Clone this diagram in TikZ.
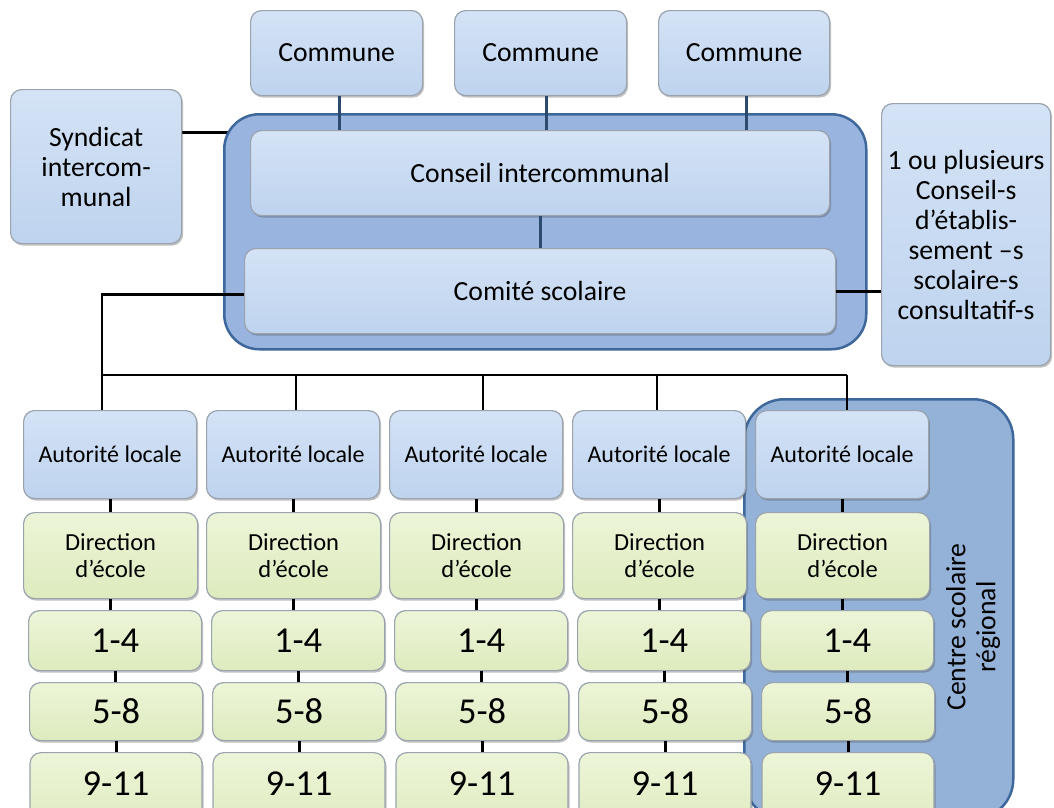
\documentclass[tikz,border=0pt]{standalone}
\usepackage{fontspec}
\setmainfont{Carlito}
\usetikzlibrary{shadows,calc}
\definecolor{blueTop}{HTML}{D4E3F6}
\definecolor{blueBot}{HTML}{BED3EE}
\definecolor{greenTop}{HTML}{EDF5D8}
\definecolor{greenBot}{HTML}{DDEBBE}
\definecolor{grpfill}{HTML}{98B4DF}
\definecolor{crsfill}{HTML}{94B2D7}
\definecolor{grpline}{HTML}{3E679B}
\definecolor{linkblue}{HTML}{2C4A70}
\definecolor{boxedge}{HTML}{9AA3AE}
\pgfdeclarelayer{back}
\pgfdeclarelayer{mid}
\pgfsetlayers{back,mid,main}
\begin{document}
\begin{tikzpicture}[x=1pt,y=-1pt,
  box/.style={rounded corners=11pt, draw=boxedge, line width=1.2pt, inner sep=0pt,
    align=center, anchor=north west,
    drop shadow={shadow xshift=1.5pt, shadow yshift=-2pt, opacity=0.35, fill=black!70}},
  bluebox/.style={box, top color=blueTop, bottom color=blueBot},
  greenbox/.style={box, top color=greenTop, bottom color=greenBot},
  grp/.style={rounded corners=35pt, draw=grpline, line width=2.5pt, anchor=north west, inner sep=0pt},
  link/.style={line width=2.8pt, draw=black},
  blink/.style={line width=2.8pt, draw=linkblue},
  bigtxt/.style={font=\fontsize{27.7}{30}\selectfont},
  midtxt/.style={font=\fontsize{24}{28}\selectfont},
  dirtxt/.style={font=\fontsize{24.5}{27}\selectfont},
  numtxt/.style={font=\fontsize{36.5}{40}\selectfont}
]
\useasboundingbox (0,0) rectangle (1054,807);
\clip (0,0) rectangle (1054,807);

% groups
\begin{pgfonlayer}{mid}
\node[grp, fill=grpfill, minimum width=642pt, minimum height=235pt] (grp) at (223,113) {};
\node[grp, fill=crsfill, rounded corners=40pt, minimum width=269pt, minimum height=420pt] (crs) at (743,398) {};
\node[bigtxt, rotate=90, align=center] (crstxt) at (973,627) {Centre scolaire\\régional};
\end{pgfonlayer}

% top boxes
\node[bluebox, bigtxt, minimum width=172pt, minimum height=85pt] (c1) at (250,10) {Commune};
\node[bluebox, bigtxt, minimum width=172pt, minimum height=85pt] (c2) at (454,10) {Commune};
\node[bluebox, bigtxt, minimum width=171pt, minimum height=85pt] (c3) at (658,10) {Commune};
\node[bluebox, bigtxt, minimum width=171pt, minimum height=154pt] (syn) at (10,89) {Syndicat\\intercom-\\munal};
\node[bluebox, bigtxt, minimum width=579pt, minimum height=85pt] (conseil) at (250,130) {Conseil intercommunal};
\node[bluebox, bigtxt, minimum width=591pt, minimum height=85pt] (comite) at (244,248) {Comité scolaire};
\node[bluebox, bigtxt, minimum width=169pt, minimum height=262pt] (plus) at (881,103)
  {1 ou plusieurs\\Conseil-s\\d’établis-\\sement –s\\scolaire-s\\consultatif-s};

% top connectors
\begin{pgfonlayer}{back}
\draw[link] ([yshift=34pt]syn.east) -- ([yshift=34pt]syn.east -| conseil.west);
\end{pgfonlayer}
\draw[blink] ([xshift=3pt]c1.south) -- ([xshift=3pt]c1.south |- conseil.north);
\draw[blink] ([xshift=6pt]c2.south) -- ([xshift=6pt]c2.south |- conseil.north);
\draw[blink] ([xshift=2.5pt]c3.south) -- ([xshift=2.5pt]c3.south |- conseil.north);
\draw[blink] (conseil.south) -- (comite.north);
\draw[link] (comite.east) -- (comite.east -| plus.west);

% bus
\coordinate (d1) at (102,375);
\coordinate (d2) at (296,375);
\coordinate (d3) at (483,375);
\coordinate (d4) at (657,375);
\coordinate (d5) at (847,375);
\draw[link] ([yshift=-3pt]comite.west) -| (d1) -- (d5);

% columns
\foreach \i/\X in {1/23, 2/206, 3/389, 4/572, 5/755} {
  \node[bluebox, midtxt, minimum width=173pt, minimum height=88pt] (al\i) at (\X,410) {Autorité locale};
  \node[greenbox, dirtxt, minimum width=174pt, minimum height=86pt] (dir\i) at (\X,512) {Direction\\d’école};
  \node[greenbox, numtxt, minimum width=173pt, minimum height=60pt] (ga\i) at (\X+5,610) {1-4};
  \node[greenbox, numtxt, minimum width=173pt, minimum height=58pt] (gb\i) at (\X+6,682) {5-8};
  \node[greenbox, numtxt, minimum width=172pt, minimum height=80pt, anchor=north] (gc\i) at (\X+93,752) {};
  \node[numtxt, anchor=base] (gct\i) at (\X+93,795) {9-11};
  \draw[link] (d\i) -- (d\i |- al\i.north);
  \draw[link] (al\i.south) -- (al\i.south |- dir\i.north);
  \draw[link] (dir\i.south) -- (dir\i.south |- ga\i.north);
  \draw[link] (ga\i.south) -- (ga\i.south |- gb\i.north);
  \draw[link] (gb\i.south) -- (gb\i.south |- gc\i.north);
}
\end{tikzpicture}
\end{document}
